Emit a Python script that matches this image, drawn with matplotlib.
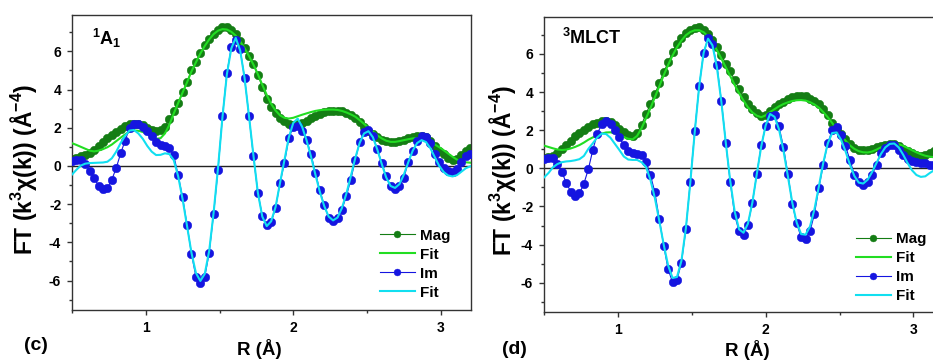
import matplotlib
matplotlib.use('Agg')
import matplotlib.pyplot as plt
from matplotlib.ticker import MultipleLocator

plt.rcParams['font.family'] = ['Liberation Sans', 'DejaVu Sans']
plt.rcParams['font.weight'] = 'bold'
plt.rcParams['axes.unicode_minus'] = False
plt.rcParams['mathtext.fontset'] = 'custom'
plt.rcParams['mathtext.rm'] = 'Liberation Sans:bold'
plt.rcParams['mathtext.it'] = 'Liberation Sans:bold'
plt.rcParams['mathtext.bf'] = 'Liberation Sans:bold'
plt.rcParams['mathtext.default'] = 'regular'

# R grid (Angstrom)
R = [0.50, 0.53, 0.56, 0.59, 0.62, 0.65, 0.68, 0.71, 0.74, 0.77,
     0.80, 0.83, 0.86, 0.89, 0.92, 0.95, 0.98, 1.01, 1.04, 1.07,
     1.10, 1.13, 1.16, 1.19, 1.22, 1.25, 1.28, 1.31, 1.34, 1.37,
     1.40, 1.43, 1.46, 1.49, 1.52, 1.55, 1.58, 1.61, 1.64, 1.67,
     1.70, 1.73, 1.76, 1.79, 1.82, 1.85, 1.88, 1.91, 1.94, 1.97,
     2.00, 2.03, 2.06, 2.09, 2.12, 2.15, 2.18, 2.21, 2.24, 2.27,
     2.30, 2.33, 2.36, 2.39, 2.42, 2.45, 2.48, 2.51, 2.54, 2.57,
     2.60, 2.63, 2.66, 2.69, 2.72, 2.75, 2.78, 2.81, 2.84, 2.87,
     2.90, 2.93, 2.96, 2.99, 3.02, 3.05, 3.08, 3.11, 3.14, 3.17,
     3.20]

# (c) 1A1
mag_c = [0.35, 0.42, 0.50, 0.58, 0.68, 0.83, 1.03, 1.25, 1.45, 1.62,
         1.80, 1.95, 2.08, 2.17, 2.21, 2.20, 2.12, 2.00, 1.90, 1.84,
         1.90, 2.06, 2.45, 2.85, 3.30, 3.85, 4.38, 5.00, 5.45, 5.90,
         6.32, 6.65, 6.92, 7.12, 7.27, 7.26, 7.12, 6.88, 6.55, 6.18,
         5.78, 5.33, 4.75, 4.15, 3.52, 3.10, 2.75, 2.50, 2.33, 2.22,
         2.16, 2.18, 2.27, 2.37, 2.50, 2.62, 2.72, 2.80, 2.86, 2.90,
         2.90, 2.86, 2.78, 2.68, 2.52, 2.28, 2.05, 1.85, 1.65, 1.50,
         1.38, 1.30, 1.26, 1.27, 1.32, 1.38, 1.45, 1.51, 1.56, 1.57,
         1.50, 1.30, 1.05, 0.80, 0.60, 0.40, 0.30, 0.36, 0.55, 0.78,
         0.95]
magfit_c = [1.19, 1.10, 1.00, 0.90, 0.80, 0.76, 0.80, 0.88, 0.98, 1.12,
            1.30, 1.48, 1.65, 1.80, 1.86, 1.84, 1.78, 1.68, 1.55, 1.42,
            1.45, 1.70, 2.15, 2.75, 3.30, 3.85, 4.38, 4.95, 5.42, 5.88,
            6.28, 6.62, 6.90, 7.08, 7.16, 7.14, 7.02, 6.82, 6.52, 6.16,
            5.75, 5.30, 4.80, 4.25, 3.72, 3.25, 2.90, 2.65, 2.52, 2.48,
            2.52, 2.60, 2.68, 2.75, 2.82, 2.88, 2.92, 2.94, 2.95, 2.95,
            2.93, 2.88, 2.80, 2.70, 2.58, 2.40, 2.20, 2.00, 1.80, 1.60,
            1.44, 1.32, 1.26, 1.26, 1.30, 1.35, 1.40, 1.44, 1.46, 1.45,
            1.38, 1.26, 1.12, 0.98, 0.82, 0.65, 0.48, 0.33, 0.24, 0.19,
            0.17]
im_c = [0.26, 0.30, 0.30, 0.12, -0.25, -0.65, -1.03, -1.22, -1.15, -0.72,
        -0.10, 0.66, 1.33, 1.97, 2.22, 2.17, 2.02, 1.85, 1.55, 1.27,
        1.12, 1.03, 0.93, 0.55, -0.50, -1.65, -3.10, -4.60, -5.80, -6.15,
        -5.80, -4.55, -2.50, -0.20, 2.60, 4.85, 6.20, 6.60, 6.10, 4.60,
        2.60, 0.50, -1.40, -2.60, -3.08, -2.95, -2.20, -0.90, 0.15, 1.45,
        2.05, 2.10, 1.85, 1.36, 0.62, -0.35, -1.28, -2.06, -2.70, -2.90,
        -2.72, -2.28, -1.58, -0.72, 0.30, 1.25, 1.80, 1.90, 1.55, 0.88,
        0.15, -0.55, -1.05, -1.22, -1.05, -0.62, 0.22, 0.80, 1.28, 1.55,
        1.52, 1.20, 0.65, 0.22, -0.12, -0.27, -0.30, -0.18, 0.20, 0.52,
        0.60]
imfit_c = [-0.45, -0.20, 0.02, 0.12, 0.15, 0.16, 0.17, 0.18, 0.22, 0.40,
           0.75, 1.20, 1.58, 1.85, 1.88, 1.70, 1.42, 1.05, 0.75, 0.57,
           0.58, 0.66, 0.62, 0.30, -0.55, -1.75, -3.15, -4.55, -5.60, -6.02,
           -5.65, -4.45, -2.45, -0.10, 2.55, 4.80, 6.15, 6.70, 6.05, 4.60,
           2.60, 0.55, -1.40, -2.65, -3.15, -2.90, -2.15, -0.90, 0.30, 1.50,
           2.25, 2.48, 2.05, 1.35, 0.50, -0.45, -1.35, -2.10, -2.65, -2.85,
           -2.70, -2.20, -1.45, -0.55, 0.40, 1.20, 1.70, 1.82, 1.50, 0.85,
           0.10, -0.60, -1.05, -1.15, -0.95, -0.45, 0.20, 0.80, 1.20, 1.35,
           1.25, 0.92, 0.45, 0.00, -0.32, -0.50, -0.55, -0.48, -0.30, -0.12,
           -0.02]

# (d) 3MLCT
mag_d = [0.55, 0.58, 0.65, 0.82, 1.02, 1.22, 1.45, 1.68, 1.86, 2.03,
         2.18, 2.30, 2.40, 2.47, 2.50, 2.42, 2.25, 2.05, 1.88, 1.74,
         1.70, 1.85, 2.28, 2.85, 3.37, 3.88, 4.46, 5.05, 5.55, 6.10,
         6.52, 6.85, 7.10, 7.27, 7.38, 7.40, 7.28, 7.05, 6.74, 6.36,
         5.94, 5.48, 5.10, 4.63, 4.15, 3.76, 3.38, 3.10, 2.88, 2.74,
         2.80, 3.02, 3.20, 3.35, 3.50, 3.62, 3.74, 3.80, 3.81, 3.77,
         3.66, 3.52, 3.35, 3.12, 2.80, 2.40, 2.05, 1.78, 1.52, 1.28,
         1.08, 0.97, 0.95, 0.97, 1.03, 1.10, 1.16, 1.24, 1.28, 1.27,
         1.16, 1.03, 0.92, 0.80, 0.68, 0.62, 0.68, 0.82, 0.90]
magfit_d = [1.19, 1.12, 1.05, 0.99, 0.96, 0.98, 1.04, 1.12, 1.22, 1.35,
            1.50, 1.62, 1.72, 1.82, 1.88, 1.89, 1.83, 1.74, 1.64, 1.55,
            1.52, 1.70, 2.10, 2.62, 3.15, 3.72, 4.30, 4.88, 5.42, 5.92,
            6.35, 6.70, 6.98, 7.15, 7.24, 7.24, 7.14, 6.92, 6.60, 6.20,
            5.76, 5.30, 4.84, 4.38, 3.94, 3.55, 3.20, 2.93, 2.76, 2.68,
            2.78, 2.95, 3.10, 3.25, 3.37, 3.46, 3.53, 3.57, 3.58, 3.55,
            3.47, 3.35, 3.18, 2.95, 2.68, 2.38, 2.05, 1.75, 1.45, 1.20,
            1.02, 0.90, 0.84, 0.83, 0.88, 0.98, 1.10, 1.20, 1.28, 1.31,
            1.27, 1.18, 1.07, 0.95, 0.84, 0.74, 0.66, 0.61, 0.58]
im_d = [0.50, 0.56, 0.55, 0.22, -0.18, -0.75, -1.22, -1.45, -1.32, -0.80,
        -0.05, 0.95, 1.80, 2.30, 2.48, 2.32, 2.00, 1.62, 1.20, 0.90,
        0.80, 0.76, 0.70, 0.35, -0.35, -1.25, -2.65, -4.05, -5.30, -5.98,
        -5.85, -4.95, -3.20, -0.70, 1.95, 4.30, 6.05, 6.82, 6.50, 5.40,
        3.55, 1.35, -0.70, -2.45, -3.30, -3.52, -2.95, -1.80, -0.30, 1.20,
        2.20, 2.75, 2.78, 2.20, 1.13, -0.28, -1.85, -2.89, -3.62, -3.73,
        -3.30, -2.40, -1.02, 0.20, 1.31, 2.00, 2.18, 1.75, 1.17, 0.44,
        -0.33, -0.74, -0.87, -0.72, -0.35, 0.20, 0.79, 1.08, 1.24, 1.22,
        0.98, 0.70, 0.48, 0.36, 0.32, 0.29, 0.26, 0.20, 0.15]
imfit_d = [-0.48, -0.25, 0.05, 0.22, 0.32, 0.36, 0.38, 0.42, 0.48, 0.65,
           1.02, 1.31, 1.62, 1.82, 1.80, 1.60, 1.28, 0.96, 0.62, 0.46,
           0.44, 0.44, 0.32, 0.08, -0.60, -1.55, -2.75, -4.00, -5.10, -5.75,
           -5.70, -4.85, -3.15, -0.75, 1.90, 4.30, 6.05, 6.80, 6.45, 5.30,
           3.50, 1.35, -0.65, -2.25, -3.20, -3.38, -2.90, -1.80, -0.30, 1.15,
           2.25, 2.85, 2.70, 2.05, 0.95, -0.40, -1.80, -2.85, -3.45, -3.48,
           -3.05, -2.15, -0.95, 0.30, 1.30, 1.85, 1.88, 1.50, 0.90, 0.20,
           -0.40, -0.75, -0.80, -0.60, -0.20, 0.28, 0.75, 1.10, 1.28, 1.30,
           1.10, 0.72, 0.28, -0.10, -0.35, -0.45, -0.42, -0.25, -0.10]

W, H = 933, 363
fig = plt.figure(figsize=(W / 100, H / 100), dpi=100)


def px(x, y):
    return x / W, 1 - y / H


def panel(rect, mag, magfit, im, imfit, xmax, ylim, leg_xy):
    ax = fig.add_axes(rect)
    r = R[:len(mag)]
    ax.axhline(0, color='#222222', lw=1.0, zorder=1)
    l1, = ax.plot(r, mag, '-o', color='#147d14', ms=6.2, mec='#147d14',
                  mew=0.3, lw=0.8, zorder=2)
    l2, = ax.plot(r, magfit, '-', color='#22dd22', lw=1.5, zorder=3)
    l3, = ax.plot(r, im, '-o', color='#1515e0', ms=6.2, mec='#1515e0',
                  mew=0.3, lw=0.8, zorder=4)
    l4, = ax.plot(r, imfit, '-', color='#11dff0', lw=1.5, zorder=5)
    ax.set_xlim(0.5, xmax)
    ax.set_ylim(*ylim)
    ax.xaxis.set_major_locator(MultipleLocator(1))
    ax.xaxis.set_minor_locator(MultipleLocator(0.5))
    ax.yaxis.set_major_locator(MultipleLocator(2))
    ax.yaxis.set_minor_locator(MultipleLocator(1))
    ax.tick_params(which='both', direction='out', top=False, right=False,
                   width=1.0, labelsize=10, color='#333333')
    ax.tick_params(which='major', length=3.8, pad=4)
    ax.tick_params(which='minor', length=2.3)
    for s in ax.spines.values():
        s.set_linewidth(1.0)
        s.set_color('#333333')
    for lab in ax.get_xticklabels() + ax.get_yticklabels():
        lab.set_fontweight('bold')
    ax.legend([l1, l2, l3, l4], ['Mag', 'Fit', 'Im', 'Fit'],
              loc='center left', bbox_to_anchor=leg_xy, frameon=False,
              borderpad=0, handlelength=2.3, handletextpad=0.35,
              labelspacing=0.33, markerscale=0.8,
              prop={'size': 11, 'weight': 'bold'})
    return ax


ax_c = panel([72 / W, 53 / H, 399 / W, 295 / H], mag_c, magfit_c, im_c,
             imfit_c, 3.205, (-7.54, 7.9), (0.752, 0.155))
ax_d = panel([544 / W, 51.3 / H, 399 / W, 294.4 / H], mag_d, magfit_d, im_d,
             imfit_d, 3.2, (-7.52, 7.92), (0.762, 0.15))
ax_d.spines['right'].set_visible(False)

ylab = r'FT (k$^3\chi$(k)) (Å$^{-4}$)'
fig.text(*px(24, 169), ylab, rotation=90, ha='center', va='center',
         fontsize=16.5, fontweight='bold')
fig.text(*px(502, 170), ylab, rotation=90, ha='center', va='center',
         fontsize=16.5, fontweight='bold')
fig.text(*px(259, 349), 'R (Å)', ha='center', va='center', fontsize=13.5,
         fontweight='bold')
fig.text(*px(747, 350), 'R (Å)', ha='center', va='center', fontsize=13.5,
         fontweight='bold')
fig.text(*px(36, 346), '(c)', ha='center', va='center', fontsize=14,
         fontweight='bold')
fig.text(*px(514, 350), '(d)', ha='center', va='center', fontsize=14,
         fontweight='bold')
fig.text(*px(92, 38), r'$^1$A$_1$', ha='left', va='center', fontsize=13,
         fontweight='bold')
fig.text(*px(562, 38), r'$^3$MLCT', ha='left', va='center', fontsize=13,
         fontweight='bold')

fig.savefig('out.png', dpi=100)
